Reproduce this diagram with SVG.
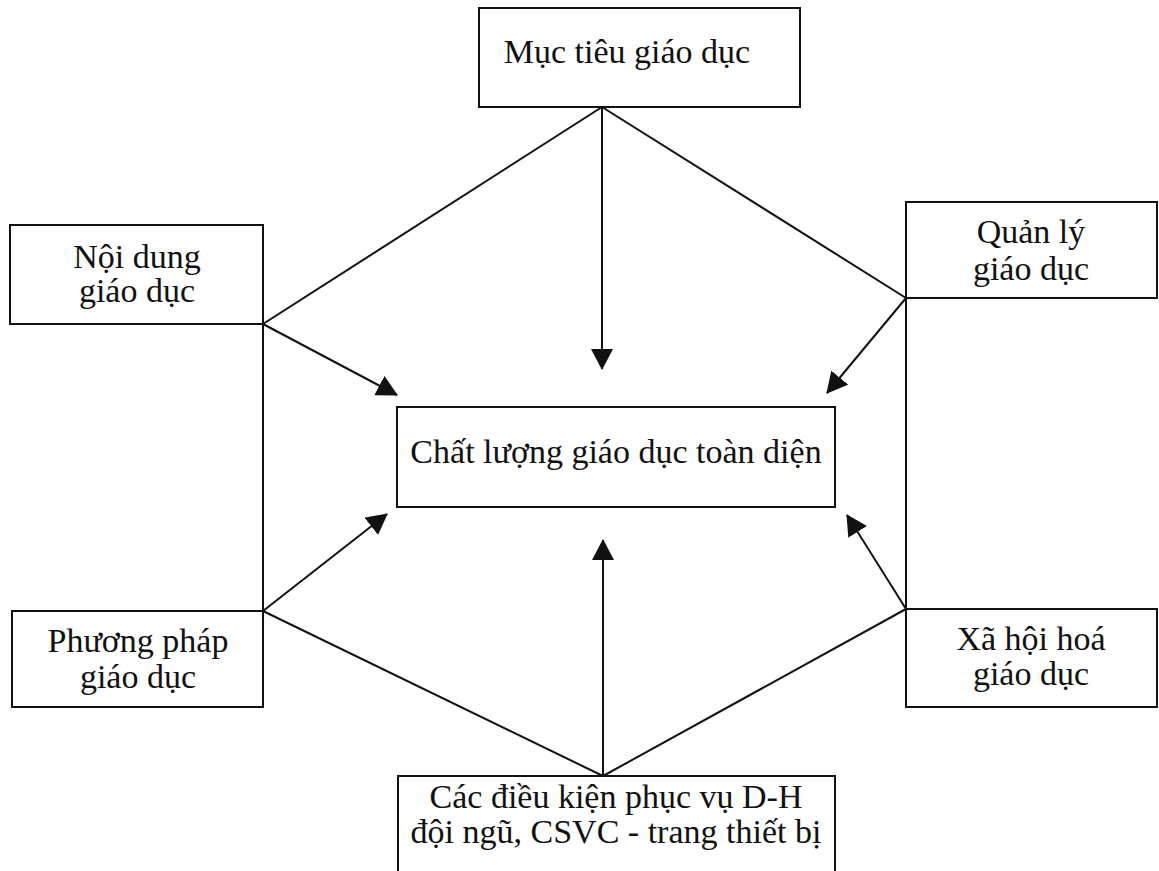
<svg xmlns="http://www.w3.org/2000/svg" width="1159" height="871" viewBox="0 0 1159 871">
<style>
.box{fill:#fff;stroke:#111;stroke-width:2}
.t{font-family:"Liberation Serif","Times New Roman",serif;font-size:34px;fill:#111;text-anchor:middle}
.ln{stroke:#111;stroke-width:2;fill:none}
</style>
<defs>
<marker id="ah" markerUnits="userSpaceOnUse" markerWidth="22" markerHeight="22" refX="20" refY="11" orient="auto" viewBox="0 0 22 22">
<path d="M0,0 L21,11 L0,22 z" fill="#111"/>
</marker>
</defs>
<rect width="1159" height="871" fill="#fff"/>
<g id="connectors">
<line class="ln" x1="602" y1="107" x2="263" y2="324"/>
<line class="ln" x1="602" y1="107" x2="906" y2="298"/>
<line class="ln" x1="602" y1="107" x2="602" y2="369" marker-end="url(#ah)"/>
<line class="ln" x1="263" y1="324" x2="263" y2="611"/>
<line class="ln" x1="906" y1="298" x2="906" y2="609"/>
<line class="ln" x1="263" y1="324" x2="397" y2="395" marker-end="url(#ah)"/>
<line class="ln" x1="906" y1="298" x2="827" y2="393" marker-end="url(#ah)"/>
<line class="ln" x1="263" y1="611" x2="387" y2="514" marker-end="url(#ah)"/>
<line class="ln" x1="906" y1="609" x2="847" y2="515" marker-end="url(#ah)"/>
<line class="ln" x1="603" y1="776" x2="263" y2="611"/>
<line class="ln" x1="603" y1="776" x2="906" y2="609"/>
<line class="ln" x1="603" y1="776" x2="603" y2="540" marker-end="url(#ah)"/>
</g>
<g id="muc-tieu">
<rect class="box" x="479" y="8" width="321" height="99"/>
<text class="t" x="627" y="63">Mục tiêu giáo dục</text>
</g>
<g id="noi-dung">
<rect class="box" x="10" y="225" width="253" height="99"/>
<text class="t" x="137" y="268">Nội dung</text>
<text class="t" x="137" y="302">giáo dục</text>
</g>
<g id="quan-ly">
<rect class="box" x="906" y="202" width="251" height="96"/>
<text class="t" x="1031" y="243">Quản lý</text>
<text class="t" x="1031" y="280">giáo dục</text>
</g>
<g id="chat-luong">
<rect class="box" x="397" y="407" width="438" height="100"/>
<text class="t" x="616" y="463">Chất lượng giáo dục toàn diện</text>
</g>
<g id="phuong-phap">
<rect class="box" x="12" y="611" width="251" height="96"/>
<text class="t" x="138" y="652">Phương pháp</text>
<text class="t" x="138" y="688">giáo dục</text>
</g>
<g id="xa-hoi-hoa">
<rect class="box" x="906" y="609" width="251" height="98"/>
<text class="t" x="1031" y="650">Xã hội hoá</text>
<text class="t" x="1031" y="685">giáo dục</text>
</g>
<g id="dieu-kien">
<rect class="box" x="398" y="776" width="437" height="110"/>
<text class="t" x="616" y="808">Các điều kiện phục vụ D-H</text>
<text class="t" x="616" y="843">đội ngũ, CSVC - trang thiết bị</text>
</g>
</svg>
